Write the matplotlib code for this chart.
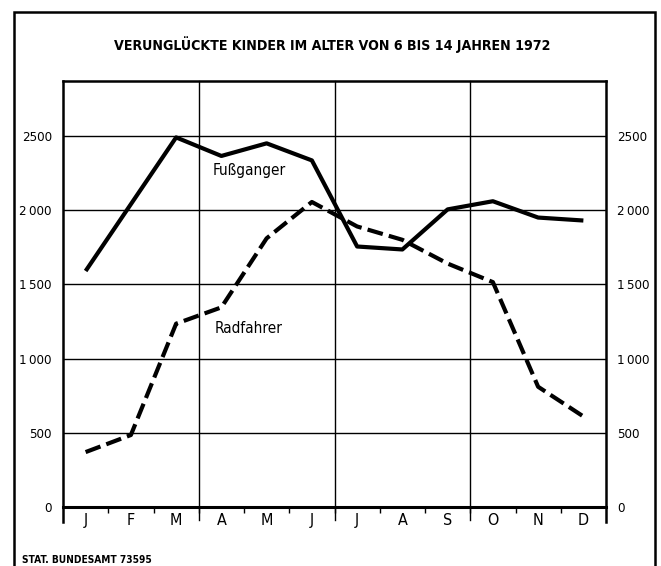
import matplotlib as mpl
import matplotlib.pyplot as plt
from matplotlib.patches import Rectangle
import numpy as np

plt.rcParams['font.family'] = ['DejaVu Sans']
plt.rcParams['font.stretch'] = 'condensed'

months = ['J', 'F', 'M', 'A', 'M', 'J', 'J', 'A', 'S', 'O', 'N', 'D']
fussgaenger = [1590, 2040, 2490, 2365, 2450, 2335, 1755, 1735, 2005, 2060, 1950, 1930]
radfahrer = [370, 485, 1235, 1345, 1810, 2055, 1890, 1800, 1640, 1515, 810, 610]
y_ticks = [0, 500, 1000, 1500, 2000, 2500]
y_labels = ['0', '500', '1\u2009000', '1\u2009500', '2\u2009000', '2500']

title = 'VERUNGLÜCKTE KINDER IM ALTER VON 6 BIS 14 JAHREN 1972'
source = 'STAT. BUNDESAMT 73595'

# ----------------------------------------------------------------------

fig = plt.figure(figsize=(6.61, 5.66), dpi=100)
ax = fig.add_axes([63 / 661, 1 - 507 / 566, 543 / 661, 426 / 566])

x = np.arange(len(months)) + 0.5
ax.plot(x, fussgaenger, color='black', lw=3, solid_capstyle='butt', zorder=3)
ax.plot(x, radfahrer, color='black', lw=3, dashes=(3.8, 1.5), zorder=3)

ax.set_xlim(0, 12)
ax.set_ylim(0, 2870)

# horizontal grid
for v in y_ticks[1:]:
    ax.axhline(v, color='black', lw=1, zorder=1)
# quarter lines, running a bit below the axis
for q in [3, 6, 9]:
    ax.axvline(q, ymin=-0.03, ymax=1, color='black', lw=1, clip_on=False, zorder=1)
for q in [0, 12]:
    ax.axvline(q, ymin=-0.035, ymax=0, color='black', lw=1.8, clip_on=False)

ax.set_xticks(x, months, fontsize=11.5)
ax.set_xticks(np.arange(1, 12), minor=True)
ax.tick_params(axis='x', which='major', length=0, pad=4)
ax.tick_params(axis='x', which='minor', length=4, width=1, direction='out')

ax.set_yticks(y_ticks, y_labels, fontsize=9.5)
ax.tick_params(axis='y', length=0, pad=8, labelleft=True, labelright=True)

for s in ax.spines.values():
    s.set_linewidth(1.8)
ax.spines['bottom'].set_linewidth(2.2)

ax.text(3.3, 2270, 'Fußganger', fontsize=11, ha='left', va='center')
ax.text(3.35, 1200, 'Radfahrer', fontsize=11, ha='left', va='center')

fig.text(332 / 661, 1 - 45 / 566, title, fontsize=10.2, fontweight='bold',
         ha='center', va='center')
fig.text(22 / 661, 1 - 560 / 566, source, fontsize=7.3, fontweight='bold',
         ha='left', va='center')

# outer frame
fig.add_artist(Rectangle((14 / 661, -0.1), 641 / 661, 1.1 - 12 / 566,
                         transform=fig.transFigure, fill=False,
                         edgecolor='black', lw=1.8))

plt.savefig('out.png', dpi=100)
